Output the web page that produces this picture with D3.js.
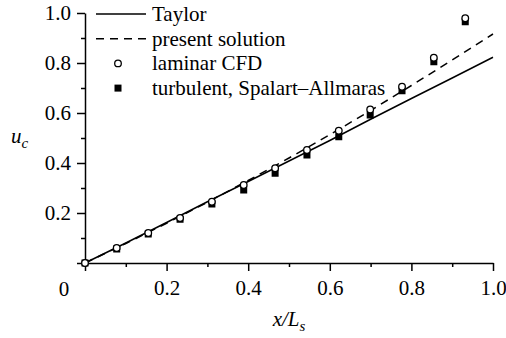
<!DOCTYPE html>
<html>
<head>
<meta charset="utf-8">
<script src="https://cdn.jsdelivr.net/npm/d3@7"></script>
<style>
  body { margin: 0; background: #fff; }
  svg { display: block; }
  text { font-family: "Liberation Serif", "Times New Roman", serif; fill: #000; }
</style>
</head>
<body>
<div id="chart"></div>
<script>
// sample positions x/Ls of the CFD points
const sampleX = [0, 0.0777, 0.155, 0.233, 0.311, 0.389, 0.466, 0.544, 0.622, 0.699, 0.777, 0.855, 0.932];
const laminarU = [0, 0.06, 0.12, 0.18, 0.245, 0.312, 0.379, 0.452, 0.529, 0.614, 0.705, 0.821, 0.979];
const turbulentU = [0, 0.056, 0.116, 0.175, 0.236, 0.292, 0.359, 0.432, 0.505, 0.592, 0.689, 0.805, 0.965];

// curves
const curveX = [0, 0.1, 0.2, 0.3, 0.4, 0.5, 0.6, 0.7, 0.8, 0.9, 1.0];
const taylorU = [0, 0.08, 0.162, 0.245, 0.326, 0.408, 0.49, 0.575, 0.658, 0.74, 0.823];
const presentU = [0, 0.078, 0.159, 0.243, 0.33, 0.42, 0.513, 0.61, 0.71, 0.812, 0.916];

const majorTicks = [0, 0.2, 0.4, 0.6, 0.8, 1.0];
const minorTicks = [0.1, 0.3, 0.5, 0.7, 0.9];

const legendLabels = ['Taylor', 'present solution', 'laminar CFD', 'turbulent, Spalart\u2013Allmaras'];

const width = 506, height = 338;
const margin = {top: 13, right: 13, bottom: 74, left: 85};
const fontSize = 21;

const svg = d3.select('#chart')
	.append('svg')
		.attr('width', width)
		.attr('height', height);

const x = d3.scaleLinear().domain([0, 1]).range([margin.left, width - margin.right]);
const y = d3.scaleLinear().domain([0, 1]).range([height - margin.bottom - 1, margin.top]);

const fmt = d => d === 0 ? '' : d3.format('.1f')(d);

// minor ticks
svg.append('g')
	.attr('transform', `translate(0,${y(0)})`)
	.call(d3.axisBottom(x).tickValues(minorTicks).tickSize(4).tickFormat(''))
	.call(g => g.select('.domain').remove());
svg.append('g')
	.attr('transform', `translate(${x(0)},0)`)
	.call(d3.axisLeft(y).tickValues(minorTicks).tickSize(4).tickFormat(''))
	.call(g => g.select('.domain').remove());

// major axes
svg.append('g')
	.attr('transform', `translate(0,${y(0)})`)
	.call(d3.axisBottom(x).tickValues(majorTicks).tickSize(8).tickSizeOuter(0).tickPadding(9).tickFormat(fmt));
svg.append('g')
	.attr('transform', `translate(${x(0)},0)`)
	.call(d3.axisLeft(y).tickValues(majorTicks).tickSize(8).tickSizeOuter(0).tickPadding(6).tickFormat(fmt));

svg.selectAll('g').attr('font-family', null).attr('font-size', null);
svg.selectAll('.tick line, .domain').attr('stroke', '#000').attr('stroke-width', 1.5);
svg.selectAll('.tick text').style('font-size', fontSize + 'px').attr('fill', '#000');

// shared origin label
svg.append('text')
	.attr('x', x(0) - 21)
	.attr('y', y(0) + 33)
	.attr('text-anchor', 'middle')
	.style('font-size', fontSize + 'px')
	.text('0');

// axis titles
const xt = svg.append('text')
	.attr('x', x(0.5))
	.attr('y', 326)
	.attr('text-anchor', 'middle')
	.style('font-size', fontSize + 'px')
	.style('font-style', 'italic');
xt.append('tspan').text('x/L');
xt.append('tspan').attr('dy', 5).style('font-size', '15px').text('s');

const yt = svg.append('text')
	.attr('x', 11)
	.attr('y', 143)
	.style('font-size', fontSize + 'px')
	.style('font-style', 'italic');
yt.append('tspan').text('u');
yt.append('tspan').attr('dy', 5).style('font-size', '15px').text('c');

// curves
const line = d3.line()
	.x((d, i) => x(curveX[i]))
	.y(d => y(d));

svg.append('path')
	.datum(taylorU)
	.attr('d', line)
	.attr('fill', 'none')
	.attr('stroke', '#000')
	.attr('stroke-width', 1.5);

svg.append('path')
	.datum(presentU)
	.attr('d', line)
	.attr('fill', 'none')
	.attr('stroke', '#000')
	.attr('stroke-width', 1.5)
	.attr('stroke-dasharray', '8,6');

// markers: squares under circles
const sq = 7;
svg.append('g')
	.selectAll('rect')
	.data(turbulentU)
	.enter()
		.append('rect')
			.attr('x', (d, i) => x(sampleX[i]) - sq / 2)
			.attr('y', d => y(d) - sq / 2)
			.attr('width', sq)
			.attr('height', sq)
			.attr('fill', '#000');

svg.append('g')
	.selectAll('circle')
	.data(laminarU)
	.enter()
		.append('circle')
			.attr('cx', (d, i) => x(sampleX[i]))
			.attr('cy', d => y(d))
			.attr('r', 3.3)
			.attr('fill', '#fff')
			.attr('stroke', '#000')
			.attr('stroke-width', 1.3);

// legend
const legend = svg.append('g').attr('transform', 'translate(96,14)');
const rowH = 24.7;
legend.append('line').attr('x1', 0).attr('x2', 50).attr('y1', 0).attr('y2', 0)
	.attr('stroke', '#000').attr('stroke-width', 1.5);
legend.append('line').attr('x1', 0).attr('x2', 52).attr('y1', rowH).attr('y2', rowH)
	.attr('stroke', '#000').attr('stroke-width', 1.5).attr('stroke-dasharray', '8,6');
legend.append('circle').attr('cx', 22).attr('cy', rowH * 2).attr('r', 3.3)
	.attr('fill', '#fff').attr('stroke', '#000').attr('stroke-width', 1.3);
legend.append('rect').attr('x', 22 - sq / 2).attr('y', rowH * 3 - sq / 2).attr('width', sq).attr('height', sq)
	.attr('fill', '#000');

legend.selectAll('text.lab')
	.data(legendLabels)
	.enter()
		.append('text')
			.attr('class', 'lab')
			.attr('x', 56)
			.attr('y', (d, i) => i * rowH)
			.attr('dy', '0.33em')
			.style('font-size', fontSize + 'px')
			.text(d => d);
</script>
</body>
</html>
